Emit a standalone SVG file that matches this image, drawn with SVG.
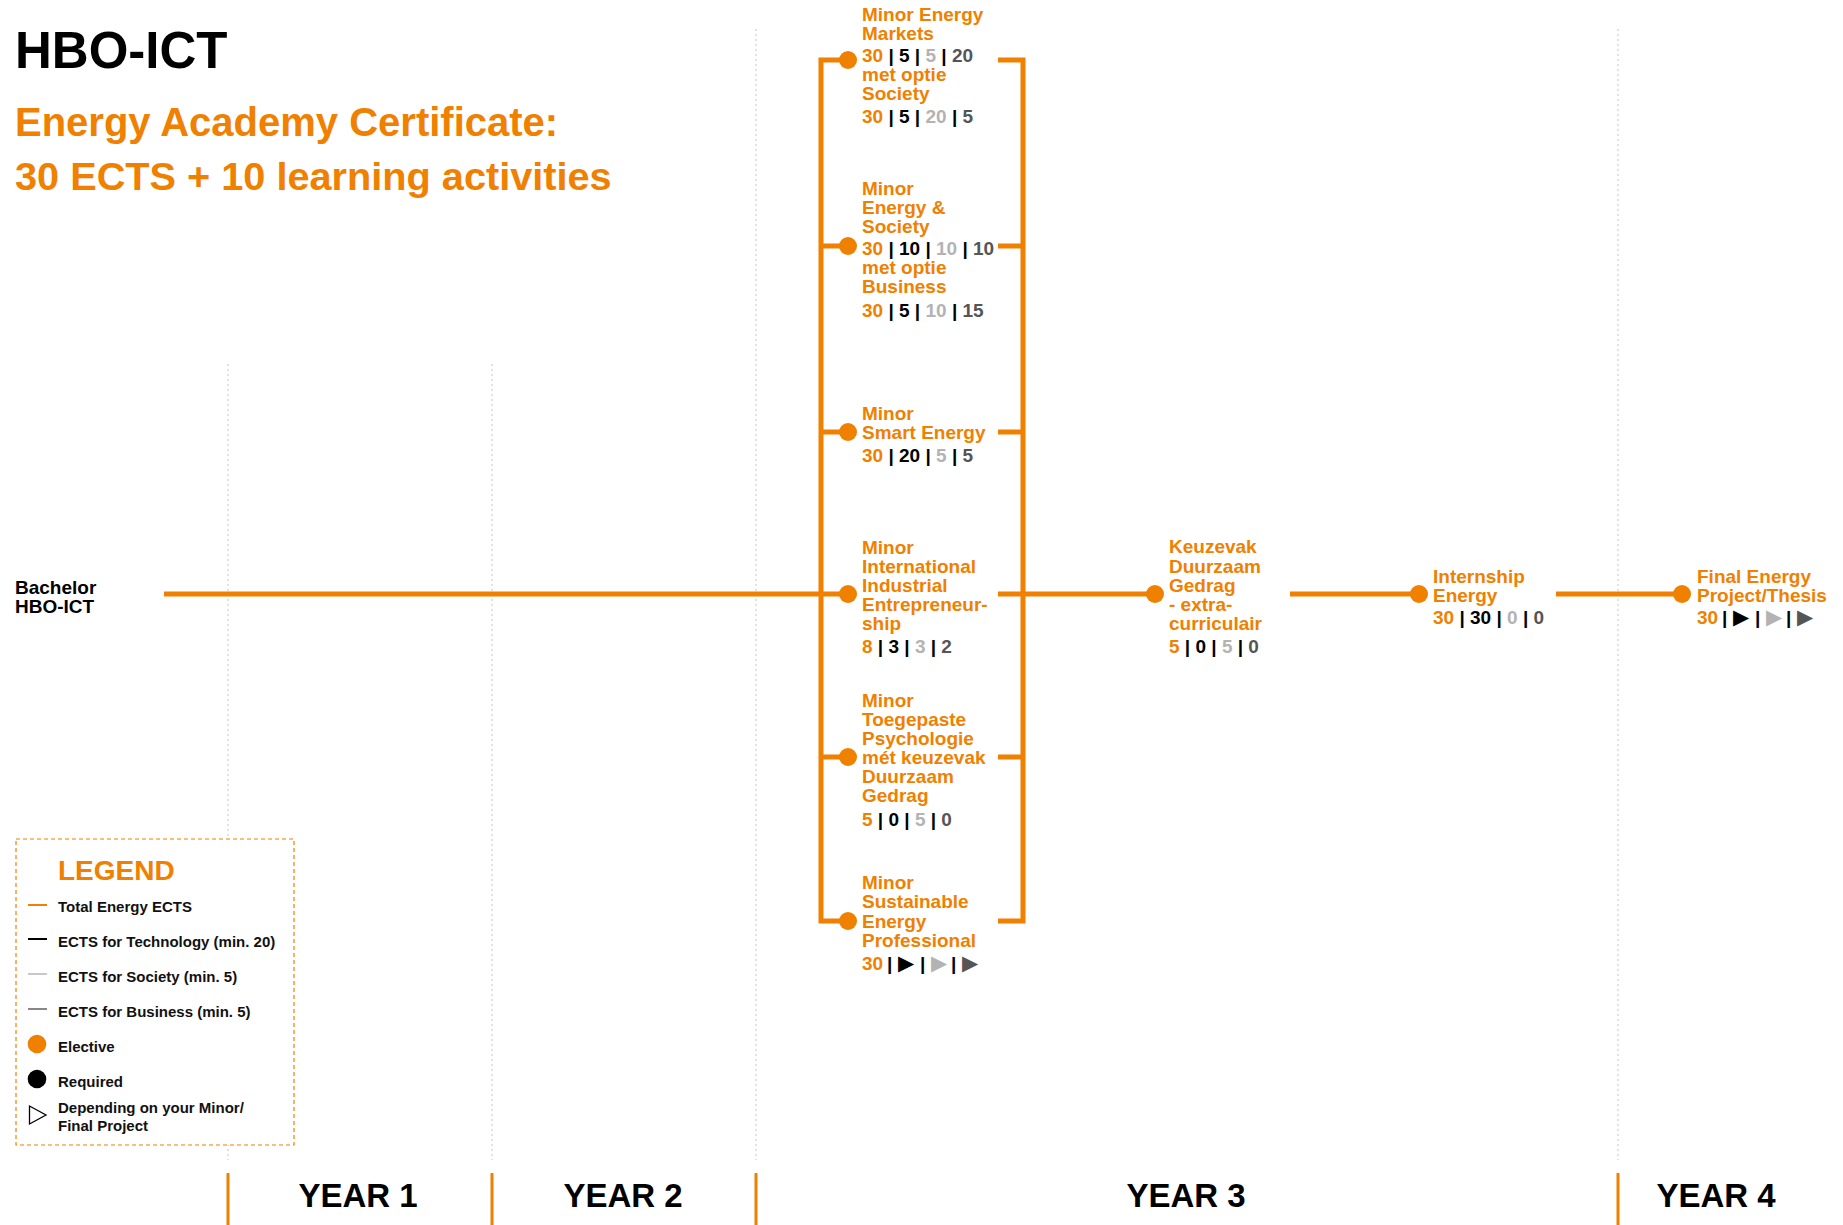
<svg xmlns="http://www.w3.org/2000/svg" width="1843" height="1225" viewBox="0 0 1843 1225">
<style>
text{font-family:"Liberation Sans",Arial,Helvetica,sans-serif;font-weight:bold}
.lbl{font-size:19px}
.o{fill:#f08000}
.k{fill:#000}
.s{fill:#b3b3b3}
.b{fill:#555}
.tri{font-family:"DejaVu Sans",sans-serif;font-size:21px}
.conn{fill:none;stroke:#f08000;stroke-width:5}
.dot{fill:#f08000}
.grid{stroke:#c4c4c4;stroke-width:1;stroke-dasharray:2 3}
.tick{stroke:#f08000;stroke-width:3}
.year{font-size:33px;fill:#000;text-anchor:middle}
.leg{font-size:15px;fill:#111}
</style>
<rect width="1843" height="1225" fill="#fff"/>
<g id="grid">
<line class="grid" x1="228" y1="364" x2="228" y2="1160"/>
<line class="grid" x1="492" y1="364" x2="492" y2="1160"/>
<line class="grid" x1="756" y1="29" x2="756" y2="1160"/>
<line class="grid" x1="1618" y1="29" x2="1618" y2="1160"/>
<line class="tick" x1="228" y1="1173" x2="228" y2="1225"/>
<line class="tick" x1="492" y1="1173" x2="492" y2="1225"/>
<line class="tick" x1="756" y1="1173" x2="756" y2="1225"/>
<line class="tick" x1="1618" y1="1173" x2="1618" y2="1225"/>
<text class="year" x="358" y="1207">YEAR 1</text>
<text class="year" x="623" y="1207">YEAR 2</text>
<text class="year" x="1186" y="1207">YEAR 3</text>
<text class="year" x="1716" y="1207">YEAR 4</text>
</g>
<g id="title">
<text x="15" y="68" font-size="51" fill="#000">HBO-ICT</text>
<text x="15" y="136" font-size="40" class="o">Energy Academy Certificate:</text>
<text x="15" y="190" font-size="39.7" class="o">30 ECTS + 10 learning activities</text>
</g>
<g id="connectors">
<path class="conn" d="M848,60 H821 V921 H848"/>
<path class="conn" d="M998,60 H1023 V921 H998"/>
<path class="conn" d="M821,246 H848 M821,432 H848 M821,757 H848"/>
<path class="conn" d="M998,246 H1023 M998,432 H1023 M998,757 H1023"/>
<path class="conn" d="M164,594 H848"/>
<path class="conn" d="M998,594 H1155"/>
<path class="conn" d="M1290,594 H1419"/>
<path class="conn" d="M1556,594 H1682"/>
</g>
<g id="bachelor">
<text class="lbl k" x="15" y="594">Bachelor</text>
<text class="lbl k" x="15" y="613">HBO-ICT</text>
</g>
<g id="minor-energy-markets">
<circle class="dot" cx="848" cy="60" r="9"/>
<text class="lbl o" x="862" y="21">Minor Energy</text>
<text class="lbl o" x="862" y="40">Markets</text>
<text class="lbl" x="862" y="62" xml:space="preserve"><tspan class="o">30</tspan><tspan class="k"> | 5 | </tspan><tspan class="s">5</tspan><tspan class="k"> | </tspan><tspan class="b">20</tspan></text>
<text class="lbl o" x="862" y="81">met optie</text>
<text class="lbl o" x="862" y="100">Society</text>
<text class="lbl" x="862" y="123" xml:space="preserve"><tspan class="o">30</tspan><tspan class="k"> | 5 | </tspan><tspan class="s">20</tspan><tspan class="k"> | </tspan><tspan class="b">5</tspan></text>
</g>
<g id="minor-energy-society">
<circle class="dot" cx="848" cy="246" r="9"/>
<text class="lbl o" x="862" y="195">Minor</text>
<text class="lbl o" x="862" y="214">Energy &amp;</text>
<text class="lbl o" x="862" y="233">Society</text>
<text class="lbl" x="862" y="255" xml:space="preserve"><tspan class="o">30</tspan><tspan class="k"> | 10 | </tspan><tspan class="s">10</tspan><tspan class="k"> | </tspan><tspan class="b">10</tspan></text>
<text class="lbl o" x="862" y="274">met optie</text>
<text class="lbl o" x="862" y="293">Business</text>
<text class="lbl" x="862" y="317" xml:space="preserve"><tspan class="o">30</tspan><tspan class="k"> | 5 | </tspan><tspan class="s">10</tspan><tspan class="k"> | </tspan><tspan class="b">15</tspan></text>
</g>
<g id="minor-smart-energy">
<circle class="dot" cx="848" cy="432" r="9"/>
<text class="lbl o" x="862" y="420">Minor</text>
<text class="lbl o" x="862" y="439">Smart Energy</text>
<text class="lbl" x="862" y="462" xml:space="preserve"><tspan class="o">30</tspan><tspan class="k"> | 20 | </tspan><tspan class="s">5</tspan><tspan class="k"> | </tspan><tspan class="b">5</tspan></text>
</g>
<g id="minor-iie">
<circle class="dot" cx="848" cy="594" r="9"/>
<text class="lbl o" x="862" y="554">Minor</text>
<text class="lbl o" x="862" y="573">International</text>
<text class="lbl o" x="862" y="592">Industrial</text>
<text class="lbl o" x="862" y="611">Entrepreneur-</text>
<text class="lbl o" x="862" y="630">ship</text>
<text class="lbl" x="862" y="653" xml:space="preserve"><tspan class="o">8</tspan><tspan class="k"> | 3 | </tspan><tspan class="s">3</tspan><tspan class="k"> | </tspan><tspan class="b">2</tspan></text>
</g>
<g id="minor-psychologie">
<circle class="dot" cx="848" cy="757" r="9"/>
<text class="lbl o" x="862" y="707">Minor</text>
<text class="lbl o" x="862" y="726">Toegepaste</text>
<text class="lbl o" x="862" y="745">Psychologie</text>
<text class="lbl o" x="862" y="764">mét keuzevak</text>
<text class="lbl o" x="862" y="783">Duurzaam</text>
<text class="lbl o" x="862" y="802">Gedrag</text>
<text class="lbl" x="862" y="826" xml:space="preserve"><tspan class="o">5</tspan><tspan class="k"> | 0 | </tspan><tspan class="s">5</tspan><tspan class="k"> | </tspan><tspan class="b">0</tspan></text>
</g>
<g id="minor-sep">
<circle class="dot" cx="848" cy="921" r="9"/>
<text class="lbl o" x="862" y="889">Minor</text>
<text class="lbl o" x="862" y="908">Sustainable</text>
<text class="lbl o" x="862" y="928">Energy</text>
<text class="lbl o" x="862" y="947">Professional</text>
<text class="lbl" y="970"><tspan class="o" x="862">30</tspan><tspan class="k" x="887">|</tspan><tspan class="k tri" x="898">▶</tspan><tspan class="k" x="920">|</tspan><tspan class="s tri" x="931">▶</tspan><tspan class="k" x="951">|</tspan><tspan class="b tri" x="962">▶</tspan></text>
</g>
<g id="keuzevak">
<circle class="dot" cx="1155" cy="594" r="9"/>
<text class="lbl o" x="1169" y="553">Keuzevak</text>
<text class="lbl o" x="1169" y="573">Duurzaam</text>
<text class="lbl o" x="1169" y="592">Gedrag</text>
<text class="lbl o" x="1169" y="611">- extra-</text>
<text class="lbl o" x="1169" y="630">curriculair</text>
<text class="lbl" x="1169" y="653" xml:space="preserve"><tspan class="o">5</tspan><tspan class="k"> | 0 | </tspan><tspan class="s">5</tspan><tspan class="k"> | </tspan><tspan class="b">0</tspan></text>
</g>
<g id="internship">
<circle class="dot" cx="1419" cy="594" r="9"/>
<text class="lbl o" x="1433" y="583">Internship</text>
<text class="lbl o" x="1433" y="602">Energy</text>
<text class="lbl" x="1433" y="624" xml:space="preserve"><tspan class="o">30</tspan><tspan class="k"> | 30 | </tspan><tspan class="s">0</tspan><tspan class="k"> | </tspan><tspan class="b">0</tspan></text>
</g>
<g id="final-project">
<circle class="dot" cx="1682" cy="594" r="9"/>
<text class="lbl o" x="1697" y="583">Final Energy</text>
<text class="lbl o" x="1697" y="602">Project/Thesis</text>
<text class="lbl" y="624"><tspan class="o" x="1697">30</tspan><tspan class="k" x="1722">|</tspan><tspan class="k tri" x="1733">▶</tspan><tspan class="k" x="1755">|</tspan><tspan class="s tri" x="1766">▶</tspan><tspan class="k" x="1786">|</tspan><tspan class="b tri" x="1797">▶</tspan></text>
</g>
<g id="legend">
<rect x="16" y="839" width="278" height="306" fill="#fff" stroke="#f08000" stroke-width="1.2" stroke-dasharray="4 3"/>
<text x="58" y="880" font-size="28" class="o">LEGEND</text>
<line x1="28" y1="905" x2="47" y2="905" stroke="#f08000" stroke-width="2"/>
<text class="leg" x="58" y="912">Total Energy ECTS</text>
<line x1="28" y1="939" x2="47" y2="939" stroke="#000" stroke-width="2"/>
<text class="leg" x="58" y="947">ECTS for Technology (min. 20)</text>
<line x1="28" y1="974" x2="47" y2="974" stroke="#c8c8c8" stroke-width="2"/>
<text class="leg" x="58" y="982">ECTS for Society (min. 5)</text>
<line x1="28" y1="1009" x2="47" y2="1009" stroke="#888" stroke-width="2"/>
<text class="leg" x="58" y="1017">ECTS for Business (min. 5)</text>
<circle cx="37" cy="1044" r="9.3" fill="#f08000"/>
<text class="leg o" x="58" y="1052">Elective</text>
<circle cx="37" cy="1079" r="9.3" fill="#000"/>
<text class="leg" x="58" y="1087">Required</text>
<polygon points="29.5,1106 29.5,1124 46,1115" fill="#fff" stroke="#000" stroke-width="1.3"/>
<text class="leg" x="58" y="1113">Depending on your Minor/</text>
<text class="leg" x="58" y="1131">Final Project</text>
</g>
</svg>
